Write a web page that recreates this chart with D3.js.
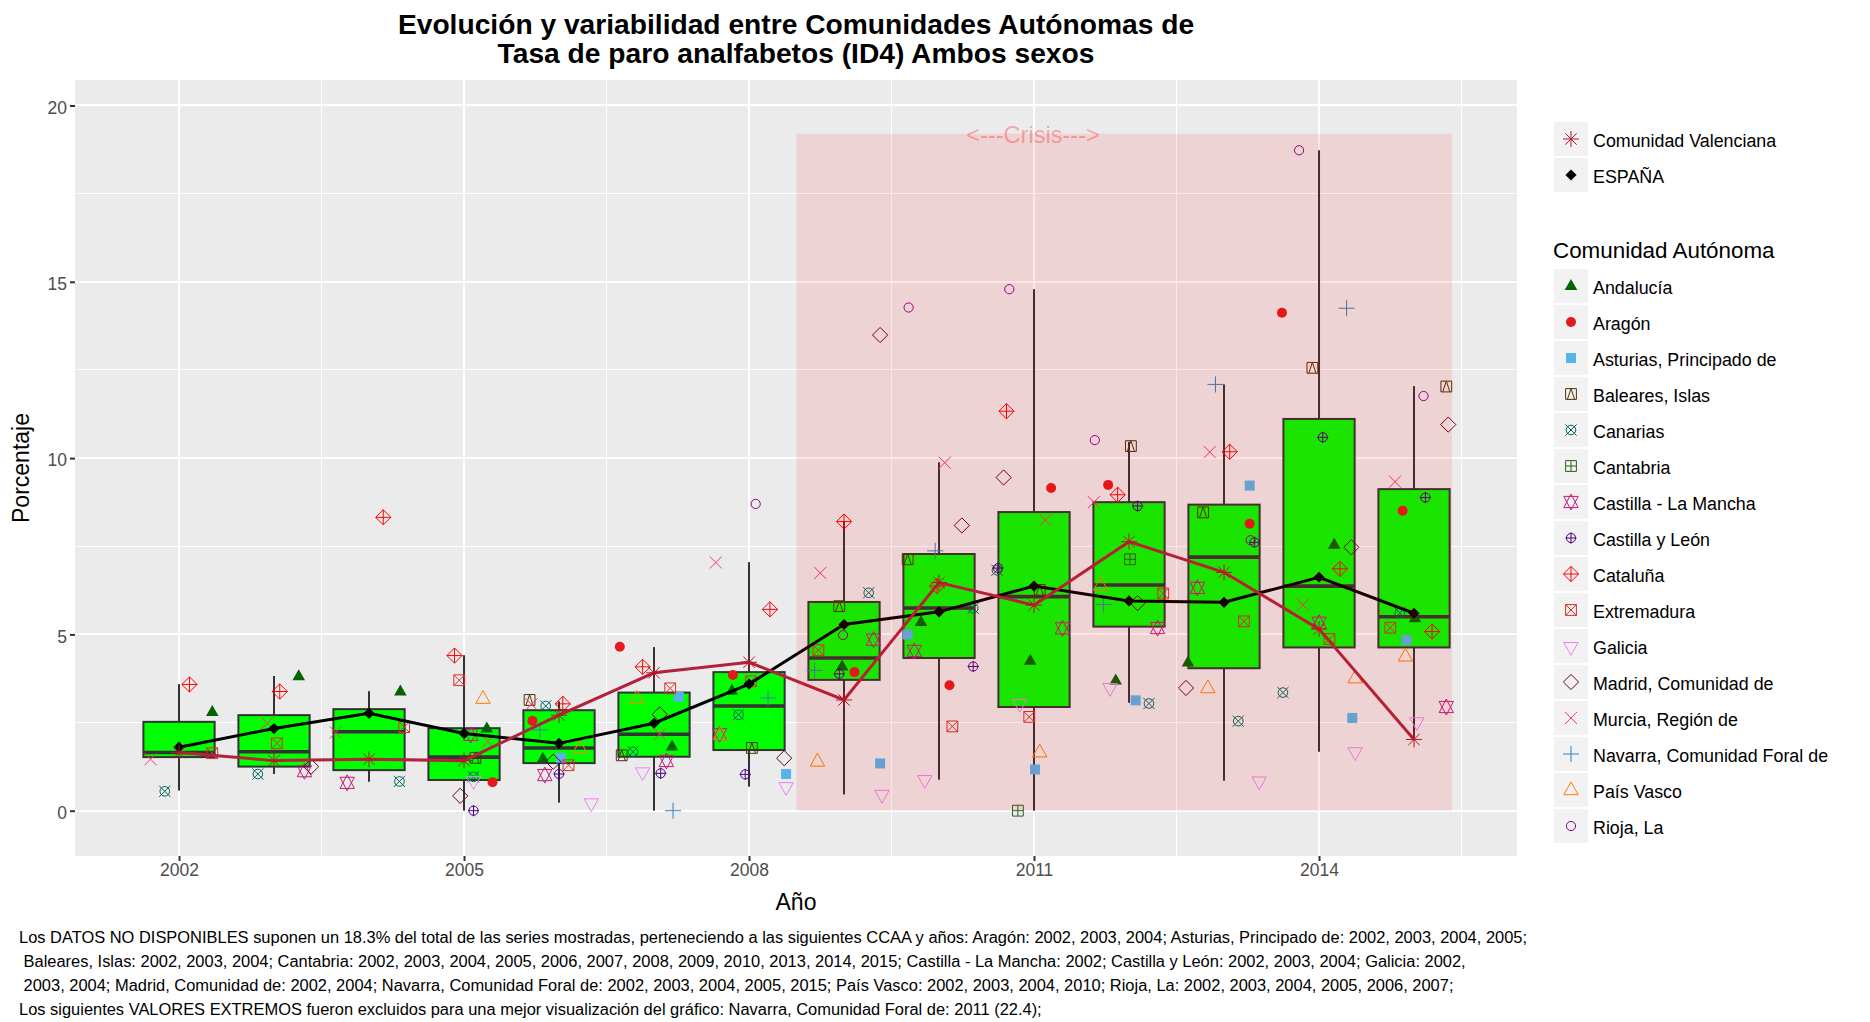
<!DOCTYPE html>
<html>
<head>
<meta charset="utf-8">
<script src="https://cdn.jsdelivr.net/npm/d3@7"></script>
<style>
body { margin: 0; background: #fff; }
text { font-family: "Liberation Sans", Arial, sans-serif; }
.tick text { fill: #4d4d4d; font-size: 17.5px; }
.tick line { stroke: #333; stroke-width: 2px; }
.domain { display: none; }
</style>
</head>
<body>
<div id="chart-area"></div>
<script>
// datos
var anios = [2002,2003,2004,2005,2006,2007,2008,2009,2010,2011,2012,2013,2014,2015];
var q1 =      [1.52,1.25,1.15,0.87,1.35,1.53,1.72,3.71,4.33,2.94,5.22,4.04,4.63,4.63];
var mediana = [1.65,1.67,2.24,1.52,1.78,2.17,2.97,4.33,5.75,6.07,6.40,7.19,6.37,5.50];
var q3 =      [2.52,2.71,2.88,2.34,2.85,3.35,3.93,5.92,7.28,8.47,8.75,8.68,11.11,9.12];
var bigoteInf = [0.57,1.04,0.82,0,0.23,0,0.68,0.46,0.88,0,3.06,0.85,1.67,2.05];
var bigoteSup = [3.59,3.82,3.39,4.41,3.10,4.64,7.05,8.20,9.88,14.79,10.46,12.09,18.73,12.04];

var espana =     [1.80,2.33,2.76,2.19,1.91,2.48,3.59,5.28,5.64,6.37,5.95,5.91,6.62,5.60];
var valenciana = [1.65,1.42,1.46,1.42,2.71,3.91,4.21,3.14,6.47,5.83,7.63,6.76,5.15,2.02];

// cada punto: [anio con jitter, porcentaje]
var andalucia = [[2002.35,2.84],[2003.26,3.85],[2004.33,3.42],[2005.24,2.37],[2005.83,1.51],[2007.19,1.86],[2007.82,3.44],[2008.98,4.13],[2009.81,5.39],[2010.96,4.29],[2011.86,3.73],[2012.62,4.24],[2014.16,7.58],[2015.01,5.50]];
var aragon = [[2005.30,0.81],[2005.72,2.55],[2006.64,4.65],[2007.83,3.85],[2009.11,3.93],[2010.11,3.56],[2011.18,9.15],[2011.78,9.24],[2013.27,8.14],[2013.61,14.12],[2014.88,8.51]];
var asturias = [[2006.02,1.50],[2007.26,3.23],[2008.39,1.04],[2009.38,1.34],[2009.67,5.00],[2011.01,1.17],[2012.07,3.13],[2013.27,9.22],[2014.35,2.63],[2014.92,4.84]];
var baleares = [[2005.12,1.50],[2005.69,3.14],[2006.66,1.57],[2008.03,1.78],[2008.95,5.80],[2009.67,7.13],[2011.06,6.26],[2012.02,10.34],[2012.78,8.46],[2013.93,12.56],[2015.34,12.03]];
var canarias = [[2001.85,0.55],[2002.83,1.04],[2004.32,0.83],[2005.10,0.96],[2005.86,2.97],[2006.78,1.67],[2007.89,2.72],[2009.26,6.18],[2010.36,5.74],[2010.61,6.82],[2012.21,3.04],[2013.15,2.54],[2013.62,3.35],[2014.85,5.61]];
var cantabria = [[2010.83,0],[2012.01,7.13]];
var castillaMancha = [[2003.32,1.12],[2003.77,0.79],[2005.07,2.15],[2005.85,1.01],[2007.13,1.41],[2007.69,2.17],[2009.31,4.85],[2009.74,4.53],[2011.30,5.17],[2012.30,5.18],[2012.72,6.32],[2014.00,5.33],[2015.34,2.94]];
var castillaLeon = [[2005.10,0],[2006.00,1.04],[2007.07,1.06],[2007.96,1.03],[2008.95,3.88],[2010.36,4.09],[2010.62,6.88],[2012.09,8.64],[2013.32,7.61],[2014.04,10.59],[2015.12,8.88]];
var cataluna = [[2002.11,3.58],[2003.06,3.38],[2004.15,8.32],[2004.90,4.40],[2006.04,3.03],[2006.88,4.08],[2008.22,5.71],[2009.00,8.20],[2009.98,6.37],[2010.71,11.33],[2011.88,8.96],[2013.06,10.18],[2014.22,6.86],[2015.19,5.08]];
var extremadura = [[2002.35,1.63],[2003.03,1.91],[2004.37,2.37],[2004.95,3.70],[2006.10,1.29],[2007.17,3.47],[2008.02,3.67],[2008.73,4.55],[2010.14,2.39],[2010.95,2.66],[2012.36,6.16],[2013.21,5.37],[2014.11,4.87],[2014.75,5.19]];
var galicia = [[2005.10,0.79],[2006.34,0.16],[2006.88,1.04],[2008.39,0.62],[2009.40,0.40],[2009.85,0.82],[2010.85,2.98],[2011.80,3.43],[2013.37,0.78],[2014.38,1.61],[2015.03,2.46]];
var madrid = [[2003.39,1.25],[2004.96,0.42],[2005.94,1.39],[2007.06,2.73],[2008.37,1.49],[2009.38,13.49],[2010.24,8.09],[2010.68,9.45],[2012.09,5.89],[2012.60,3.48],[2014.34,7.47],[2015.36,10.95]];
var murcia = [[2001.70,1.46],[2002.93,2.48],[2003.65,2.22],[2005.25,1.96],[2005.71,3.02],[2007.06,2.17],[2007.65,7.04],[2008.75,6.74],[2010.06,9.87],[2011.12,8.24],[2011.63,8.75],[2012.85,10.17],[2013.83,5.84],[2014.80,9.33]];
var navarra = [[2005.80,2.29],[2007.20,0],[2008.20,3.20],[2008.69,3.98],[2009.96,7.37],[2011.73,5.85],[2012.91,12.09],[2014.29,14.25]];
var paisVasco = [[2005.20,3.22],[2006.22,1.81],[2006.82,3.22],[2007.70,2.19],[2008.72,1.44],[2011.06,1.70],[2011.70,6.43],[2012.83,3.52],[2014.38,3.80],[2014.91,4.42]];
var rioja = [[2008.07,8.70],[2008.99,4.98],[2009.68,14.27],[2010.74,14.79],[2011.64,10.51],[2013.28,7.67],[2013.79,18.73],[2015.10,11.76]];

var nombres = ["Andalucía","Aragón","Asturias, Principado de","Baleares, Islas","Canarias","Cantabria","Castilla - La Mancha","Castilla y León","Cataluña","Extremadura","Galicia","Madrid, Comunidad de","Murcia, Región de","Navarra, Comunidad Foral de","País Vasco","Rioja, La"];
var puntos = [andalucia,aragon,asturias,baleares,canarias,cantabria,castillaMancha,castillaLeon,cataluna,extremadura,galicia,madrid,murcia,navarra,paisVasco,rioja];
var colores = ["#006400","#e41a1c","#56b4e9","#543005","#01665e","#276419","#c51b7d","#4b0082","#ff0000","#d73027","#ee82ee","#67001f","#ff3366","#377eb8","#ff7f00","#8b008b"];
var formas = [17,16,15,14,13,12,11,10,9,7,6,5,4,3,2,1];

var ticksY = [0,5,10,15,20];
var menoresY = [2.5,7.5,12.5,17.5];
var ticksX = [2002,2005,2008,2011,2014];
var menoresX = [2003.5,2006.5,2009.5,2012.5,2015.5];

var notas = [
	"Los DATOS NO DISPONIBLES suponen un 18.3% del total de las series mostradas, perteneciendo a las siguientes CCAA y años: Aragón: 2002, 2003, 2004; Asturias, Principado de: 2002, 2003, 2004, 2005;",
	" Baleares, Islas: 2002, 2003, 2004; Cantabria: 2002, 2003, 2004, 2005, 2006, 2007, 2008, 2009, 2010, 2013, 2014, 2015; Castilla - La Mancha: 2002; Castilla y León: 2002, 2003, 2004; Galicia: 2002,",
	" 2003, 2004; Madrid, Comunidad de: 2002, 2004; Navarra, Comunidad Foral de: 2002, 2003, 2004, 2005, 2015; País Vasco: 2002, 2003, 2004, 2010; Rioja, La: 2002, 2003, 2004, 2005, 2006, 2007;",
	"Los siguientes VALORES EXTREMOS fueron excluidos para una mejor visualización del gráfico: Navarra, Comunidad Foral de: 2011 (22.4);"
];

var svg = d3.select("#chart-area").append("svg")
	.attr("width",1870)
	.attr("height",1022)
	.style("display","block");

var left = 75, right = 1517, top_ = 80, bottom = 856;

var x = d3.scaleLinear().domain([2000.905,2016.084]).range([left,right]);
var y = d3.scaleLinear().domain([-1.285,20.723]).range([bottom,top_]);

// simbolos al estilo pch de R
function marca(pch){
	var p = d3.path();
	function circulo(r){ p.moveTo(r,0); p.arc(0,0,r,0,2*Math.PI); }
	function cuadro(l){ p.rect(-l,-l,2*l,2*l); }
	function cruz(l){ p.moveTo(-l,0); p.lineTo(l,0); p.moveTo(0,-l); p.lineTo(0,l); }
	function aspa(l){ p.moveTo(-l,-l); p.lineTo(l,l); p.moveTo(-l,l); p.lineTo(l,-l); }
	function rombo(l){ p.moveTo(0,-l); p.lineTo(l,0); p.lineTo(0,l); p.lineTo(-l,0); p.closePath(); }
	function triangulo(a,base,punta){ p.moveTo(-a,base); p.lineTo(a,base); p.lineTo(0,punta); p.closePath(); }
	switch(pch){
		case 1: circulo(4.6); break;
		case 2: triangulo(7.2,6.2,-6.6); break;
		case 3: cruz(8); break;
		case 4: aspa(6); break;
		case 5: rombo(7.6); break;
		case 6: triangulo(7.2,-6.2,6.6); break;
		case 7: cuadro(5.4); aspa(5.4); break;
		case 8: cruz(8); aspa(5.7); break;
		case 9: rombo(7.6); cruz(7.6); break;
		case 10: circulo(4.6); cruz(5.6); break;
		case 11: triangulo(7.2,5.6,-8); triangulo(7.2,-5.6,8); break;
		case 12: cuadro(5.4); cruz(5.4); break;
		case 13: circulo(4.8); aspa(5.6); break;
		case 14: cuadro(5.4); p.moveTo(-3.6,5.4); p.lineTo(0,-5.4); p.lineTo(3.6,5.4); break;
		case 15: cuadro(5); break;
		case 16: circulo(5); break;
		case 17: triangulo(6.3,5.4,-5.6); break;
		case 18: rombo(5.6); break;
	}
	return p.toString();
}
function relleno(pch){ return pch==15 || pch==16 || pch==17 || pch==18; }

function pintaMarca(sel,pch,color){
	sel.attr("d",marca(pch))
		.attr("fill",relleno(pch) ? color : "none")
		.attr("stroke",relleno(pch) ? "none" : color)
		.attr("stroke-width",1);
}

// panel y rejilla
svg.append("rect")
	.attr("x",left).attr("y",top_)
	.attr("width",right-left).attr("height",bottom-top_)
	.attr("fill","#ebebeb");

var rejilla = svg.append("g").attr("shape-rendering","crispEdges").attr("stroke","#fff");
rejilla.selectAll(".gy").data(menoresY).enter().append("line")
	.attr("x1",left).attr("x2",right)
	.attr("y1",function(d){ return y(d); }).attr("y2",function(d){ return y(d); })
	.attr("stroke-width",1);
rejilla.selectAll(".gx").data(menoresX).enter().append("line")
	.attr("y1",top_).attr("y2",bottom)
	.attr("x1",function(d){ return x(d); }).attr("x2",function(d){ return x(d); })
	.attr("stroke-width",1);
rejilla.selectAll(".my").data(ticksY).enter().append("line")
	.attr("x1",left).attr("x2",right)
	.attr("y1",function(d){ return y(d); }).attr("y2",function(d){ return y(d); })
	.attr("stroke-width",2);
rejilla.selectAll(".mx").data(ticksX).enter().append("line")
	.attr("y1",top_).attr("y2",bottom)
	.attr("x1",function(d){ return x(d); }).attr("x2",function(d){ return x(d); })
	.attr("stroke-width",2);

// ejes
var ejeY = svg.append("g")
	.attr("transform","translate("+left+",0)")
	.call(d3.axisLeft(y).tickValues(ticksY).tickSize(5).tickPadding(3).tickFormat(d3.format("d")));
ejeY.selectAll("text").attr("dy","0.45em");
svg.append("g")
	.attr("transform","translate(0,"+bottom+")")
	.call(d3.axisBottom(x).tickValues(ticksX).tickSize(5).tickPadding(3).tickFormat(d3.format("d")));

// cajas
var anchoCaja = x(0.75)-x(0);
var cajas = svg.append("g").selectAll("g").data(anios).enter().append("g");
cajas.append("line")
	.attr("x1",function(d){ return x(d); }).attr("x2",function(d){ return x(d); })
	.attr("y1",function(d,i){ return y(bigoteSup[i]); })
	.attr("y2",function(d,i){ return y(q3[i]); })
	.attr("stroke","#333").attr("stroke-width",2);
cajas.append("line")
	.attr("x1",function(d){ return x(d); }).attr("x2",function(d){ return x(d); })
	.attr("y1",function(d,i){ return y(bigoteInf[i]); })
	.attr("y2",function(d,i){ return y(q1[i]); })
	.attr("stroke","#333").attr("stroke-width",2);
cajas.append("rect")
	.attr("x",function(d){ return x(d)-anchoCaja/2; })
	.attr("width",anchoCaja)
	.attr("y",function(d,i){ return y(q3[i]); })
	.attr("height",function(d,i){ return y(q1[i])-y(q3[i]); })
	.attr("fill","#00ff00").attr("stroke","#333").attr("stroke-width",2);
cajas.append("line")
	.attr("x1",function(d){ return x(d)-anchoCaja/2; })
	.attr("x2",function(d){ return x(d)+anchoCaja/2; })
	.attr("y1",function(d,i){ return y(mediana[i]); })
	.attr("y2",function(d,i){ return y(mediana[i]); })
	.attr("stroke","#333").attr("stroke-width",3.6);

// puntos por comunidad
puntos.forEach(function(serie,k){
	svg.append("g").selectAll("path").data(serie).enter().append("path")
		.call(pintaMarca,formas[k],colores[k])
		.attr("transform",function(d){ return "translate("+x(d[0])+","+y(d[1])+")"; });
});

// lineas
var linea = d3.line().x(function(d,i){ return x(anios[i]); }).y(function(d){ return y(d); });
svg.append("path").attr("d",linea(espana))
	.attr("fill","none").attr("stroke","#000").attr("stroke-width",3);
svg.append("g").selectAll("path").data(espana).enter().append("path")
	.call(pintaMarca,18,"#000")
	.attr("transform",function(d,i){ return "translate("+x(anios[i])+","+y(d)+")"; });
svg.append("path").attr("d",linea(valenciana))
	.attr("fill","none").attr("stroke","#b2223a").attr("stroke-width",3);
svg.append("g").selectAll("path").data(valenciana).enter().append("path")
	.call(pintaMarca,8,"#b2182b")
	.attr("transform",function(d,i){ return "translate("+x(anios[i])+","+y(d)+")"; });

// periodo de crisis, va encima de todo
svg.append("rect")
	.attr("x",x(2008.5)).attr("width",x(2015.4)-x(2008.5))
	.attr("y",y(19.2)).attr("height",y(0)-y(19.2))
	.attr("fill","#ff0000").attr("fill-opacity",0.1);
svg.append("text")
	.attr("x",x(2011)-1).attr("y",y(19.2)+9)
	.attr("text-anchor","middle")
	.attr("font-size",23.6)
	.attr("fill","#ff0000").attr("fill-opacity",0.3)
	.text("<---Crisis--->");

// titulos
svg.append("text").attr("x",796).attr("y",33.5).attr("text-anchor","middle")
	.attr("font-size",28.2).attr("font-weight","bold")
	.text("Evolución y variabilidad entre Comunidades Autónomas de");
svg.append("text").attr("x",796).attr("y",63).attr("text-anchor","middle")
	.attr("font-size",28.2).attr("font-weight","bold")
	.text("Tasa de paro analfabetos (ID4) Ambos sexos");
svg.append("text").attr("x",796).attr("y",910).attr("text-anchor","middle")
	.attr("font-size",23).text("Año");
svg.append("text").attr("transform","translate(29,468) rotate(-90)").attr("text-anchor","middle")
	.attr("font-size",23).text("Porcentaje");

// leyendas: los triangulos no van centrados en la clave
var ajusteClave = {17:-1.5, 2:-1.5, 6:2.7};
function leyenda(items,y0){
	var g = svg.append("g").selectAll("g").data(items).enter().append("g")
		.attr("transform",function(d,i){ return "translate(1554,"+(y0+i*36)+")"; });
	g.append("rect").attr("width",34).attr("height",34).attr("fill","#f2f2f2");
	g.append("path").each(function(d){ d3.select(this).call(pintaMarca,d.forma,d.color); })
		.attr("transform",function(d){ return "translate(17,"+(17+(ajusteClave[d.forma]||0))+")"; });
	g.append("text").attr("x",39).attr("y",24.5).attr("font-size",17.85).attr("fill","#000")
		.text(function(d){ return d.nombre; });
}
leyenda([{nombre:"Comunidad Valenciana",forma:8,color:"#b2182b"},{nombre:"ESPAÑA",forma:18,color:"#000"}],122);
svg.append("text").attr("x",1553).attr("y",258).attr("font-size",22.4).text("Comunidad Autónoma");
leyenda(nombres.map(function(n,i){ return {nombre:n,forma:formas[i],color:colores[i]}; }),269);

// nota al pie
svg.append("g").selectAll("text").data(notas).enter().append("text")
	.attr("x",19)
	.attr("y",function(d,i){ return 942.5+i*24; })
	.attr("font-size",16.45)
	.style("white-space","pre")
	.text(function(d){ return d; });
</script>
</body>
</html>
